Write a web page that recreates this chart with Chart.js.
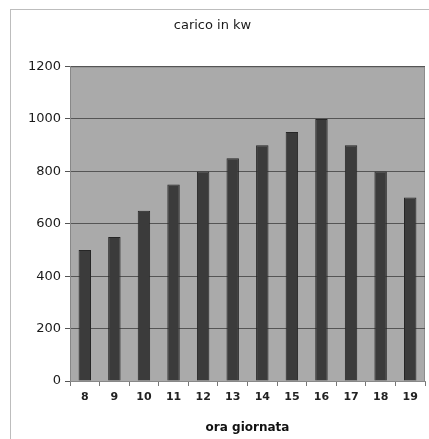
<!DOCTYPE html>
<html>
<head>
<meta charset="utf-8">
<script src="https://cdn.jsdelivr.net/npm/chart.js@4/dist/chart.umd.min.js"></script>
<style>
  html, body { margin: 0; padding: 0; background: #fff; }
  #wrap { width: 429px; height: 439px; }
</style>
</head>
<body>
<div id="wrap"><canvas id="chart"></canvas></div>
<script>
var hours = ["8", "9", "10", "11", "12", "13", "14", "15", "16", "17", "18", "19"];
var loadKw = [500, 550, 650, 750, 800, 850, 900, 950, 1000, 900, 800, 700];
var yTicks = [0, 200, 400, 600, 800, 1000, 1200];

// grey plot background + outer frame, like the old spreadsheet chart
var frame = {
    id: 'frame',
    beforeDraw: function(chart) {
        var c = chart.ctx, a = chart.chartArea;
        c.save();
        c.strokeStyle = '#bdbdbd';
        c.lineWidth = 1;
        c.strokeRect(10.5, 9.5, 440, 460);
        c.fillStyle = '#aaaaaa';
        c.fillRect(a.left, a.top, a.right - a.left, a.bottom - a.top);
        c.strokeStyle = '#8c8c8c';
        c.strokeRect(a.left + 0.5, a.top + 0.5, a.right - a.left - 1, a.bottom - a.top);
        c.restore();
    }
};

var ctx = document.getElementById('chart');
var chart = new Chart(ctx, {
    type: 'bar',
    data: {
        labels: hours,
        datasets: [{
            data: loadKw,
            backgroundColor: '#3b3b3b',
            borderColor: '#262626',
            borderWidth: 1,
            barPercentage: 0.42,
            categoryPercentage: 1
        }]
    },
    options: {
        responsive: true,
        maintainAspectRatio: false,
        animation: false,
        layout: { padding: { left: 0, right: 4, top: 0, bottom: 0 } },
        plugins: {
            legend: { display: false },
            tooltip: { enabled: false },
            title: {
                display: true,
                text: 'carico in kw',
                color: '#1a1a1a',
                font: { family: 'DejaVu Sans', size: 13, weight: 'normal' },
                padding: { top: 18, bottom: 33 }
            }
        },
        scales: {
            x: {
                grid: { display: true, drawOnChartArea: false, tickLength: 5, color: '#777' },
                border: { color: '#888' },
                ticks: {
                    color: '#222',
                    padding: 5,
                    font: { family: 'DejaVu Sans', size: 11, weight: 'bold' },
                    maxRotation: 0
                },
                title: {
                    display: true,
                    text: 'ora giornata',
                    color: '#111',
                    font: { family: 'DejaVu Sans', size: 12, weight: 'bold' },
                    padding: { top: 0, bottom: 4 }
                },
                afterFit: function(scale) { scale.height = 58; }
            },
            y: {
                min: 0,
                max: 1200,
                afterBuildTicks: function(scale) {
                    scale.ticks = yTicks.map(function(v) { return { value: v }; });
                },
                grid: { color: '#555', tickLength: 5, lineWidth: 1 },
                border: { color: '#888' },
                ticks: {
                    color: '#1a1a1a',
                    padding: 4,
                    font: { family: 'DejaVu Sans', size: 13 },
                    callback: function(v) { return String(v); }
                },
                afterFit: function(scale) { scale.width = 70; }
            }
        }
    },
    plugins: [frame]
});
</script>
</body>
</html>
